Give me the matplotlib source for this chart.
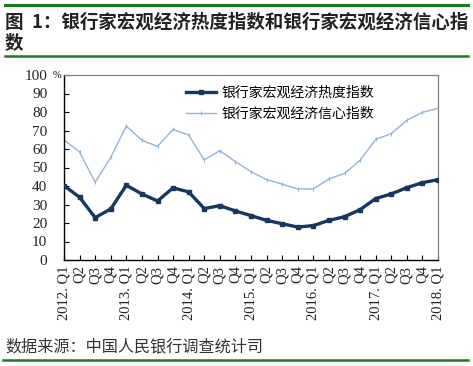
import matplotlib

matplotlib.use("Agg")

import matplotlib.pyplot as plt
from matplotlib.lines import Line2D

plt.rcParams["font.family"] = ["Liberation Serif", "Noto Sans CJK SC", "DejaVu Sans"]

# =========================
# Data (%)
# =========================
quarters = [
    "2012. Q1", "Q2", "Q3", "Q4",
    "2013. Q1", "Q2", "Q3", "Q4",
    "2014. Q1", "Q2", "Q3", "Q4",
    "2015. Q1", "Q2", "Q3", "Q4",
    "2016. Q1", "Q2", "Q3", "Q4",
    "2017. Q1", "Q2", "Q3", "Q4",
    "2018. Q1",
]
heat_index = [40.2, 33.9, 22.9, 27.6, 40.4, 35.7, 31.9, 39.0, 36.8, 27.8, 29.4, 26.5,
              24.0, 21.4, 19.6, 17.8, 18.6, 21.4, 23.4, 27.2, 33.2, 35.7, 39.1, 41.8, 43.4]
confidence_index = [64.9, 58.4, 42.0, 55.5, 72.4, 64.7, 61.4, 70.6, 67.5, 54.1, 59.1, 53.2,
                    47.7, 43.5, 41.0, 38.4, 38.4, 43.8, 46.8, 53.9, 65.2, 68.3, 75.5, 79.8, 82.0]
y_ticks = [0, 10, 20, 30, 40, 50, 60, 70, 80, 90, 100]

heat_label = "银行家宏观经济热度指数"
conf_label = "银行家宏观经济信心指数"
title_line1 = "图  1：银行家宏观经济热度指数和银行家宏观经济信心指"
title_line2 = "数"
source_text = "数据来源：中国人民银行调查统计司"

DARK = "#17375e"
LIGHT = "#95b3d7"
GREEN = "#1f7a1f"
CJK = ["Noto Sans CJK SC", "DejaVu Sans"]

fig = plt.figure(figsize=(4.73, 3.66), dpi=100)
ax = fig.add_axes([64 / 473, 1 - 260 / 366, 374 / 473, 185 / 366])

x = list(range(len(quarters)))
ax.plot(x, heat_index, color=DARK, linewidth=2.4, marker="s", markersize=3.4,
        label=heat_label, zorder=3)
ax.plot(x, confidence_index, color=LIGHT, linewidth=1.0, marker="|", markersize=3,
        markeredgewidth=0.8, label=conf_label, zorder=2)

ax.set_xlim(0, len(quarters) - 1)
ax.set_ylim(0, 100)
ax.set_yticks(y_ticks)
ax.set_yticklabels([str(v) for v in y_ticks], fontsize=11, color="#222222")
ax.set_xticks(x)
ax.set_xticklabels(quarters, rotation=90, fontsize=10.5, color="#222222")
ax.tick_params(axis="both", direction="in", length=3.5, width=0.8, colors="black")
ax.tick_params(axis="y", pad=12, labelcolor="#222222")
ax.tick_params(axis="x", pad=4, labelcolor="#222222")

for side in ["top", "right"]:
    ax.spines[side].set_color("#808080")
    ax.spines[side].set_linewidth(0.9)
for side in ["left", "bottom"]:
    ax.spines[side].set_color("black")
    ax.spines[side].set_linewidth(1.0)

ax.text(-0.02, 1.0, "%", transform=ax.transAxes, ha="center", va="center", fontsize=7.5)

ax.legend(
    loc="upper left",
    bbox_to_anchor=(180 / 473, 1 - 80 / 366),
    bbox_transform=fig.transFigure,
    frameon=False,
    prop={"family": CJK, "size": 10},
    handlelength=2.2,
    handletextpad=0.4,
    labelspacing=0.5,
    borderaxespad=0.0,
)

# title and source with green rules
fig.add_artist(Line2D([5 / 473, 468 / 473], [1 - 5 / 366, 1 - 5 / 366], color=GREEN, linewidth=2.2))
fig.add_artist(Line2D([5 / 473, 468 / 473], [1 - 56 / 366, 1 - 56 / 366], color=GREEN, linewidth=1.8))
fig.add_artist(Line2D([3 / 473, 468 / 473], [1 - 360 / 366, 1 - 360 / 366], color=GREEN, linewidth=1.8))

fig.text(5 / 473, 1 - 22 / 366, title_line1, ha="left", va="center", fontsize=13.3,
         fontweight="bold", family=CJK, color="#222222")
fig.text(5 / 473, 1 - 43 / 366, title_line2, ha="left", va="center", fontsize=13.3,
         fontweight="bold", family=CJK, color="#222222")
fig.text(5 / 473, 1 - 347 / 366, source_text, ha="left", va="center", fontsize=11.6,
         family=CJK, color="#333333")

fig.savefig("out.png", dpi=100)
